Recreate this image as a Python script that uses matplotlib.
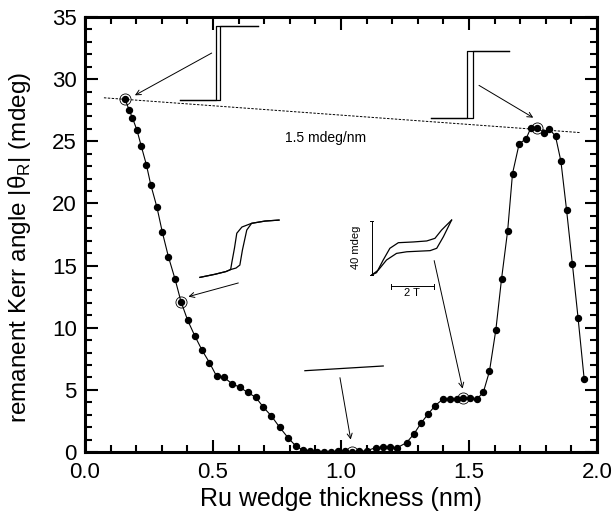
import matplotlib
matplotlib.use('Agg')
import matplotlib.pyplot as plt

plt.rcParams['font.family'] = ['Liberation Sans', 'DejaVu Sans']

# Ru wedge thickness (nm) and remanent Kerr angle (mdeg)
thick = [0.156, 0.173, 0.185, 0.203, 0.220, 0.240, 0.257, 0.281, 0.302, 0.326,
         0.352, 0.375, 0.401, 0.430, 0.457, 0.486, 0.514, 0.543, 0.574, 0.605,
         0.635, 0.667, 0.697, 0.728, 0.760, 0.793, 0.825, 0.852, 0.879, 0.906,
         0.934, 0.961, 0.988, 1.015, 1.043, 1.070, 1.100, 1.136, 1.163, 1.190,
         1.220, 1.256, 1.285, 1.312, 1.340, 1.368, 1.397, 1.426, 1.453, 1.478,
         1.505, 1.530, 1.556, 1.580, 1.605, 1.627, 1.651, 1.670, 1.696, 1.723,
         1.742, 1.767, 1.792, 1.814, 1.838, 1.859, 1.881, 1.904, 1.926, 1.950]
kerr = [28.4, 27.5, 26.9, 25.9, 24.6, 23.1, 21.5, 19.7, 17.7, 15.7,
        13.9, 12.1, 10.6, 9.3, 8.2, 7.2, 6.1, 6.0, 5.5, 5.2,
        4.8, 4.4, 3.6, 2.9, 2.0, 1.15, 0.45, 0.15, 0.1, 0.0,
        0.0, 0.0, 0.05, 0.1, 0.0, 0.05, 0.1, 0.35, 0.4, 0.4,
        0.35, 0.75, 1.45, 2.3, 3.05, 3.73, 4.24, 4.26, 4.24, 4.32,
        4.32, 4.24, 4.8, 6.5, 9.84, 13.9, 17.8, 22.4, 24.8, 25.2,
        26.1, 26.1, 25.7, 26.0, 25.4, 23.4, 19.5, 15.1, 10.8, 5.85]

# points that carry a hysteresis loop inset
circ_x = [0.156, 0.375, 1.043, 1.478, 1.767]
circ_y = [28.4, 12.1, 0.0, 4.32, 26.1]

# 1.5 mdeg/nm reference line
ref_x = [0.074, 1.934]
ref_y = [28.5, 25.7]

# inset loops (drawn in data units)
loop1a_x = [0.371, 0.529, 0.529, 0.677]
loop1a_y = [28.3, 28.3, 34.3, 34.3]
loop1b_x = [0.371, 0.512, 0.512, 0.677]
loop1b_y = [28.3, 28.3, 34.3, 34.3]
loop2a_x = [1.352, 1.493, 1.493, 1.657]
loop2a_y = [26.9, 26.9, 32.3, 32.3]
loop2b_x = [1.352, 1.517, 1.517, 1.657]
loop2b_y = [26.9, 26.9, 32.3, 32.3]
loop3a_x = [0.449, 0.508, 0.551, 0.569, 0.574, 0.584, 0.593, 0.613, 0.651, 0.703, 0.758]
loop3a_y = [14.05, 14.3, 14.52, 14.68, 15.29, 16.41, 17.6, 18.1, 18.4, 18.58, 18.66]
loop3b_x = [0.449, 0.508, 0.551, 0.569, 0.590, 0.605, 0.615, 0.632, 0.651, 0.703, 0.758]
loop3b_y = [14.05, 14.3, 14.52, 14.68, 14.8, 15.04, 16.25, 17.86, 18.4, 18.58, 18.66]
loop4_x = [0.859, 1.165]
loop4_y = [6.54, 6.92]
loop5a_x = [1.120, 1.139, 1.165, 1.191, 1.224, 1.283, 1.335, 1.367, 1.393, 1.432]
loop5a_y = [14.24, 14.43, 15.45, 16.39, 16.84, 16.9, 16.98, 17.19, 17.86, 18.66]
loop5b_x = [1.120, 1.146, 1.178, 1.217, 1.257, 1.348, 1.374, 1.400, 1.432]
loop5b_y = [14.24, 14.64, 15.45, 15.98, 16.11, 16.2, 16.39, 17.32, 18.66]

# arrows: (tail x, tail y, head x, head y)
arrows = [(0.495, 32.1, 0.195, 28.7),
          (1.539, 29.5, 1.751, 26.9),
          (0.599, 13.6, 0.404, 12.5),
          (0.996, 5.98, 1.038, 1.0),
          (1.364, 15.4, 1.475, 5.1)]

fig = plt.figure(figsize=(6.14, 5.2), dpi=100)
ax = fig.add_axes([0.1384, 0.1308, 0.8339, 0.8365])

ax.plot(thick, kerr, '-', color='black', lw=0.8)
ax.plot(thick, kerr, 'o', color='black', ms=4.3)
ax.plot(circ_x, circ_y, 'o', mfc='none', mec='black', ms=8, mew=0.6)
ax.plot(ref_x, ref_y, color='black', lw=0.7, ls=(0, (2.5, 1.5)))
ax.text(0.94, 25.85, '1.5 mdeg/nm', fontsize=10, ha='center', va='top')

for lx, ly in [(loop1a_x, loop1a_y), (loop1b_x, loop1b_y), (loop2a_x, loop2a_y),
               (loop2b_x, loop2b_y), (loop3a_x, loop3a_y), (loop3b_x, loop3b_y),
               (loop4_x, loop4_y), (loop5a_x, loop5a_y), (loop5b_x, loop5b_y)]:
    ax.plot(lx, ly, color='black', lw=0.9)

# scale bars of the right-middle inset
ax.plot([1.12, 1.12], [14.24, 18.6], color='black', lw=0.7)
ax.plot([1.113, 1.127], [18.6, 18.6], color='black', lw=0.7)
ax.plot([1.113, 1.127], [14.24, 14.24], color='black', lw=0.7)
ax.text(1.059, 16.45, '40 mdeg', fontsize=8, rotation=90, ha='center', va='center')
ax.plot([1.195, 1.364], [13.35, 13.35], color='black', lw=0.7)
ax.plot([1.195, 1.195], [13.15, 13.55], color='black', lw=0.7)
ax.plot([1.364, 1.364], [13.15, 13.55], color='black', lw=0.7)
ax.text(1.276, 12.8, '2 T', fontsize=8, ha='center', va='center')

for x0, y0, x1, y1 in arrows:
    ax.annotate('', xy=(x1, y1), xytext=(x0, y0),
                arrowprops=dict(arrowstyle='->', color='black', lw=0.7,
                                mutation_scale=9, shrinkA=0, shrinkB=0))

ax.set_xlim(0, 2.0)
ax.set_ylim(0, 35)
ax.set_xticks([0.0, 0.5, 1.0, 1.5, 2.0])
ax.set_xticklabels(['0.0', '0.5', '1.0', '1.5', '2.0'])
ax.set_xticks([i * 0.1 for i in range(21)], minor=True)
ax.set_yticks(range(0, 36, 5))
ax.set_yticks(range(0, 36), minor=True)
ax.tick_params(which='both', direction='in', top=True, right=True, width=1.5)
ax.tick_params(which='major', length=9, labelsize=16)
ax.tick_params(axis='x', which='major', pad=7)
ax.tick_params(axis='y', which='major', pad=6)
ax.tick_params(which='minor', length=5)
for sp in ax.spines.values():
    sp.set_linewidth(2.2)

ax.set_xlabel('Ru wedge thickness (nm)', fontsize=18, labelpad=3)
ax.set_ylabel('remanent Kerr angle |θ$_\\mathregular{R}$| (mdeg)', fontsize=17.5)
ax.yaxis.set_label_coords(-0.102, 0.47)

fig.savefig('out.png', dpi=100)
